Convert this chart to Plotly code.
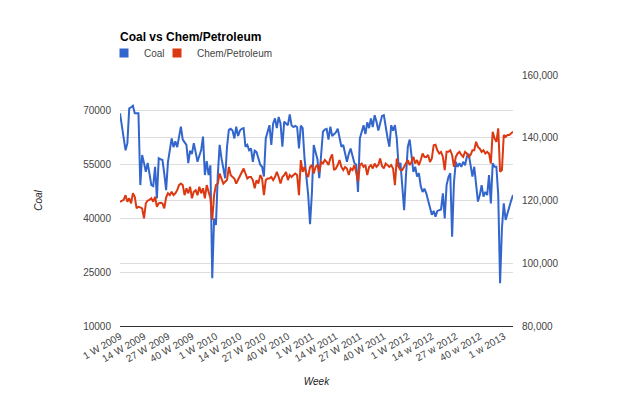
import plotly.graph_objects as go

tick_labels = ["1 W 2009", "14 W 2009", "27 W 2009", "40 W 2009",
               "1 W 2010", "14 W 2010", "27 W 2010", "40 W 2010",
               "1 W 2011", "14 W 2011", "27 W 2011", "40 W 2011",
               "1 W 2012", "14 w 2012", "27 w 2012", "40 w 2012", "1 w 2013"]
tick_step = 13

coal = [
    69300, 66000, 62500, 59000, 61000, 70700, 71000, 71400, 69300, 69300,
    69300, 49300, 57700, 55500, 53000, 55500, 52000, 49300, 49000, 54400,
    45600, 56800, 56500, 56300, 52500, 47900, 55800, 58500, 62300, 59900,
    61500, 59900, 62500, 65600, 62000, 61400, 60500, 55400, 58900, 58000,
    61000, 58500, 55800, 57500, 59100, 62800, 52100, 56000, 52100, 54800,
    23300, 40000, 38200, 52000, 60500, 56800, 54000, 51200, 60000, 64700,
    65000, 64500, 62300, 65600, 63000, 64500, 65000, 65200, 60000, 60500,
    59000, 59500, 55800, 58900, 58500, 57000, 55000, 54400, 51700, 62300,
    64500, 66000, 60500, 66500, 67900, 65200, 68300, 66500, 60000, 67000,
    66500, 66000, 69000, 65900, 65500, 65800, 65500, 59500, 65900, 65200,
    56800, 52000, 46500, 38400, 47000, 60500, 58500, 56500, 51200, 58000,
    64200, 64800, 65000, 62000, 65600, 63000, 63500, 64000, 65000, 62000,
    60000, 60500, 58000, 55800, 58000, 59500, 57500, 55500, 55000, 47400,
    62300, 64000, 66000, 63500, 66800, 65200, 67900, 65500, 68800, 67000,
    64500, 66500, 68600, 68800, 65200, 62500, 60000, 66000, 64500, 66000,
    62300, 54400, 55500, 50000, 42300, 52000, 60000, 62000, 57000, 53000,
    54400, 51700, 52600, 49000, 47400, 48300, 47000, 45100, 43500, 41000,
    42100, 40500, 42100, 42300, 42500, 47000, 40000, 49300, 51500, 52600,
    34900, 50000, 55800, 54400, 55400, 54400, 55800, 54800, 57200, 58000,
    54400, 51700, 54400, 49300, 44700, 46500, 49300, 46100, 47400, 46500,
    52100, 44200, 55400, 54400, 54400, 46500, 21900, 37200, 44200, 39600,
    41500, 43800, 45000, 46500,
]

chem = [
    119600, 120000, 120200, 121700, 119600, 120700, 119100, 122300, 121200, 117500,
    118000, 117800, 117500, 114300, 119100, 120000, 120200, 120700, 119600, 121200,
    118000, 119100, 119300, 119100, 117500, 121000, 122300, 121700, 122800, 121700,
    122300, 123300, 124900, 125400, 124900, 121700, 123900, 122300, 124400, 120700,
    122800, 123300, 121700, 124400, 122300, 123900, 120700, 124900, 122800, 120700,
    113800, 121700, 124900, 125400, 128600, 127000, 125400, 126000, 126500, 130700,
    128100, 127500, 127000, 125400, 126500, 128100, 129000, 130200, 128600, 127000,
    127500, 127500, 126500, 123900, 126500, 125400, 128100, 127000, 121700, 126500,
    127000, 127000, 127500, 126500, 127500, 129100, 127500, 125400, 127500, 128100,
    129100, 126500, 128100, 127500, 128100, 128600, 128100, 121700, 132900, 129100,
    130700, 128500, 127500, 130700, 131300, 128600, 130700, 131300, 129100, 132300,
    131800, 132900, 132300, 131300, 133400, 134700, 129700, 130200, 131300, 132900,
    130700, 129700, 130700, 130200, 128100, 130200, 129700, 131300, 129100, 126000,
    131300, 131800, 130700, 131300, 128100, 130700, 131300, 130200, 131800, 130700,
    131300, 133400, 131000, 130200, 131800, 131300, 130700, 131300, 130200, 124900,
    133400, 130700, 129700, 129700, 130700, 131800, 132900, 131300, 132300, 133900,
    131800, 132900, 131300, 132900, 135000, 133900, 133900, 134500, 132300, 133400,
    137600, 137800, 136000, 135000, 135500, 133900, 129700, 135500, 135500, 136000,
    134500, 130700, 133900, 135000, 135500, 134500, 133900, 135500, 135000, 133900,
    134500, 136000, 136000, 138700, 137100, 136500, 135500, 136000, 135000, 135500,
    135000, 131800, 141900, 139800, 138700, 143000, 129200, 129700, 140900, 140300,
    140900, 140900, 141400, 141900,
]

coal_ticks = [10000, 25000, 40000, 55000, 70000]
chem_ticks = [80000, 100000, 120000, 140000, 160000]

COAL_C = "#3366cc"
CHEM_C = "#dc3912"
FONT = "Liberation Sans, Arial, sans-serif"

W, H = 624, 394
ML, MR, MT, MB = 120, 111, 75, 68
PW = W - ML - MR
PH = H - MT - MB

x = list(range(len(coal)))
tickvals = [i * tick_step for i in range(len(tick_labels))]

fig = go.Figure()
fig.add_trace(go.Scatter(x=x, y=coal, mode="lines", name="Coal",
                         line=dict(color=COAL_C, width=2), showlegend=False,
                         yaxis="y"))
fig.add_trace(go.Scatter(x=x[:len(chem)], y=chem, mode="lines", name="Chem/Petroleum",
                         line=dict(color=CHEM_C, width=2), showlegend=False,
                         yaxis="y2"))
# legend entries with square swatches
fig.add_trace(go.Scatter(x=[None], y=[None], mode="markers", name="Coal",
                         marker=dict(symbol="square", size=9, color=COAL_C),
                         legend="legend"))
fig.add_trace(go.Scatter(x=[None], y=[None], mode="markers", name="Chem/Petroleum",
                         marker=dict(symbol="square", size=9, color=CHEM_C),
                         legend="legend2"))

leg_y = 1 + (MT - 53) / PH
leg_common = dict(orientation="h", xanchor="left", y=leg_y, yanchor="middle",
                  font=dict(family=FONT, size=10, color="#444"),
                  bgcolor="rgba(0,0,0,0)", borderwidth=0)

fig.update_layout(
    width=W, height=H,
    margin=dict(l=ML, r=MR, t=MT, b=MB, autoexpand=False),
    paper_bgcolor="white", plot_bgcolor="white",
    font=dict(family=FONT, size=10, color="#444"),
    title=dict(text="<b>Coal vs Chem/Petroleum</b>", x=ML / W, xanchor="left",
               xref="container", y=1 - 37 / H, yanchor="middle",
               font=dict(family=FONT, size=12, color="#000")),
    legend=dict(x=(104 - ML) / PW, **leg_common),
    legend2=dict(x=(157 - ML) / PW, **leg_common),
    xaxis=dict(range=[0, len(coal) - 1], tickmode="array", tickvals=tickvals,
               ticktext=tick_labels, tickangle=-30, showgrid=False, zeroline=False,
               showline=True, linecolor="#333", linewidth=1, ticks="",
               tickfont=dict(size=10, color="#444"),
               title=dict(text="<i>Week</i>", font=dict(size=10, color="#222"), standoff=14)),
    yaxis=dict(range=[10000, 80000], tickmode="array", tickvals=coal_ticks,
               ticktext=[str(v) for v in coal_ticks], showgrid=True, gridcolor="#ddd",
               zeroline=False, ticks="", ticklabelstandoff=8,
               tickfont=dict(size=10, color="#444"),
               title=dict(text="<i>Coal</i>", font=dict(size=10, color="#222"), standoff=38)),
    yaxis2=dict(range=[80000, 160000], tickmode="array", tickvals=chem_ticks,
                ticktext=[f"{v:,}" for v in chem_ticks], overlaying="y", side="right",
                showgrid=True, gridcolor="#ddd", zeroline=False, ticks="",
                ticklabelstandoff=8, tickfont=dict(size=10, color="#444")),
)

fig.write_html("out.html", config={"displayModeBar": False},
               post_script="document.body.style.margin='0';")
